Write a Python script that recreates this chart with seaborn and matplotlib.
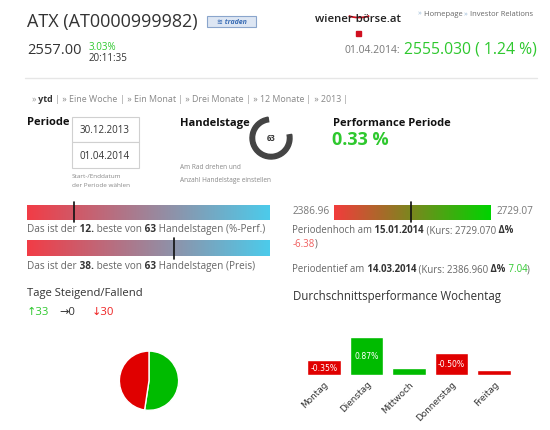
import numpy as np
import matplotlib
matplotlib.use("Agg")
import matplotlib.pyplot as plt
from matplotlib.colors import LinearSegmentedColormap
from matplotlib.patches import Rectangle, Wedge, Arc
import seaborn as sns

# header values
INDEX_NAME = "ATX (AT0000999982)"
LAST_PRICE = "2557.00"
LAST_CHANGE = "3.03%"
LAST_TIME = "20:11:35"
CLOSE_DATE = "01.04.2014:"
CLOSE_VALUE = "2555.030 ( 1.24 %)"
NAV_LINKS = ["Eine Woche", "Ein Monat", "Drei Monate", "12 Monate", "2013"]

# period values
PERIOD_START = "30.12.2013"
PERIOD_END = "01.04.2014"
TRADING_DAYS = 63
PERF_PERIOD = "0.33 %"
RANK_PERF = 12
RANK_PRICE = 38
PERIOD_LOW = 2386.96
PERIOD_HIGH = 2729.07
PRICE_NOW = 2555.03
HIGH_DATE = "15.01.2014"
HIGH_DELTA = "-6.38"
LOW_DATE = "14.03.2014"
LOW_DELTA = "7.04"

# up / flat / down days
DAYS_UP = 33
DAYS_FLAT = 0
DAYS_DOWN = 30

# average performance per weekday (%)
WEEKDAYS = ["Montag", "Dienstag", "Mittwoch", "Donnerstag", "Freitag"]
WEEKDAY_PERF = [-0.35, 0.87, 0.16, -0.50, -0.12]

GREEN_TXT = "#2ec82e"
GREEN = "#00bb00"
RED = "#e00000"
GRAY = "#666666"
DARK = "#333333"

W, H = 550, 431

sns.set_theme(style="white")
plt.rcParams["font.family"] = ["Open Sans", "DejaVu Sans"]

fig = plt.figure(figsize=(W / 100, H / 100), dpi=100)
page = fig.add_axes([0, 0, 1, 1])
page.set_axis_off()


def px_axes(x0, y0, x1, y1):
    return fig.add_axes([x0 / W, 1 - y1 / H, (x1 - x0) / W, (y1 - y0) / H])


def run(x, y, parts, size):
    # parts: (text, color, weight); pieces are glued one after another,
    # spaces go at the start of a piece
    t = None
    for s, c, w in parts:
        if t is None:
            t = page.text(x, y, s, color=c, fontweight=w, fontsize=size, va="center", ha="left")
        else:
            t = page.annotate(s, xy=(1, 0), xycoords=t, va="bottom", ha="left",
                              color=c, fontweight=w, fontsize=size)
    return t


# --- header
page.text(27, 22, INDEX_NAME, fontsize=13, color=DARK, va="center")
page.add_patch(Rectangle((207, 16.5), 49, 11, facecolor="#dde6f3", edgecolor="#8aa5cc", lw=0.8))
page.text(231.5, 22, "≋ traden", fontsize=5, color="#3a6db5", fontweight="bold",
          style="italic", ha="center", va="center")
page.text(27, 51, LAST_PRICE, fontsize=10.5, color=DARK, va="center")
page.text(89, 47, LAST_CHANGE, fontsize=7, color=GREEN_TXT, va="center")
page.text(89, 58.5, LAST_TIME, fontsize=7, color=DARK, va="center")

page.text(315, 20, "wiener börse.at", fontsize=8.2, fontweight="semibold", color="#222222", va="center")
page.add_patch(Arc((359, 15), 24, 7, theta1=10, theta2=170, color="#d01020", lw=1.3))
page.add_patch(Rectangle((356, 32), 5, 5, color="#d01020"))
run(418, 14, [("»", "#9bbbd8", "normal"), (" Homepage", GRAY, "normal"),
              (" »", "#9bbbd8", "normal"), (" Investor Relations", GRAY, "normal")], 5.5)

page.text(537, 49.5, CLOSE_VALUE, fontsize=11.3, color=GREEN_TXT, ha="right", va="center")
page.text(400, 50.5, CLOSE_DATE, fontsize=7.5, color="#777777", ha="right", va="center")
page.plot([25, 537], [79, 79], color="#e6e6e6", lw=1)

nav = [("»", "#999999", "normal"), (" ytd", DARK, "bold")]
for name in NAV_LINKS:
    nav += [(" |", "#999999", "normal"), (" » " + name, "#888888", "normal")]
nav += [(" |", "#999999", "normal")]
run(32, 99.5, nav, 6.4)

# --- period block
page.text(27, 122.5, "Periode", fontsize=8, fontweight="bold", color="#111111", va="center")
for y0, label in [(117.5, PERIOD_START), (143.3, PERIOD_END)]:
    page.add_patch(Rectangle((71.5, y0), 67, 25.8, facecolor="white", edgecolor="#d0d0d0", lw=0.8))
    page.text(105, y0 + 12.9, label, fontsize=7, color=DARK, ha="center", va="center")
page.text(72, 176.5, "Start-/Enddatum", fontsize=4.6, color="#888888", va="center")
page.text(72, 185.5, "der Periode wählen", fontsize=4.6, color="#888888", va="center")

page.text(180, 123.5, "Handelstage", fontsize=8, fontweight="bold", color="#111111", va="center")
page.add_patch(Wedge((271, 139), 21, -10, 262, width=4.6, color="#444444"))
page.text(271, 139, str(TRADING_DAYS), fontsize=5.5, fontweight="bold", color=DARK,
          ha="center", va="center")
page.text(180, 168, "Am Rad drehen und", fontsize=4.7, color="#888888", va="center")
page.text(180, 180.5, "Anzahl Handelstage einstellen", fontsize=4.7, color="#888888", va="center")

page.text(333, 123.5, "Performance Periode", fontsize=8, fontweight="bold", color="#111111", va="center")
page.text(332, 140, PERF_PERIOD, fontsize=13, fontweight="bold", color=GREEN_TXT, va="center")

# --- gradient bars
grad = np.linspace(0, 1, 256)[None, :]
blue_cmap = LinearSegmentedColormap.from_list("rank", ["#f23c46", "#4ccbeb"])
green_cmap = LinearSegmentedColormap.from_list("range", ["#f23c3c", "#00d400"])

for (y0, y1), rank in [((205.7, 220.7), RANK_PERF), ((241.7, 257.3), RANK_PRICE)]:
    page.imshow(grad, cmap=blue_cmap, extent=(27.3, 270, y1, y0), aspect="auto")
    xm = 27.3 + (270 - 27.3) * rank / TRADING_DAYS
    page.plot([xm, xm], [y0 - 2.5, y1 + 2.5], color="#111111", lw=1.2)

BODY = 7.2
run(27, 230, [("Das ist der", GRAY, "normal"), (f" {RANK_PERF}.", DARK, "bold"),
              (" beste von", GRAY, "normal"), (f" {TRADING_DAYS}", DARK, "bold"),
              (" Handelstagen (%-Perf.)", GRAY, "normal")], BODY)
run(27, 266.5, [("Das ist der", GRAY, "normal"), (f" {RANK_PRICE}.", DARK, "bold"),
                (" beste von", GRAY, "normal"), (f" {TRADING_DAYS}", DARK, "bold"),
                (" Handelstagen (Preis)", GRAY, "normal")], BODY)

page.imshow(grad, cmap=green_cmap, extent=(334.3, 491, 220.7, 205.7), aspect="auto")
xm = 334.3 + (491 - 334.3) * (PRICE_NOW - PERIOD_LOW) / (PERIOD_HIGH - PERIOD_LOW)
page.plot([xm, xm], [203.2, 223.2], color="#111111", lw=1.2)
page.text(292.5, 212, f"{PERIOD_LOW:.2f}", fontsize=BODY, color="#777777", va="center")
page.text(497, 212, f"{PERIOD_HIGH:.2f}", fontsize=BODY, color="#777777", va="center")

run(292.5, 231, [("Periodenhoch am", GRAY, "normal"), (f" {HIGH_DATE}", DARK, "bold"),
                 (f" (Kurs: {PERIOD_HIGH:.3f}", GRAY, "normal"), (" Δ%", DARK, "bold")], 6.9)
run(292.5, 244.5, [(HIGH_DELTA, "#f06060", "normal"), (")", GRAY, "normal")], 6.9)
run(292.5, 270, [("Periodentief am", GRAY, "normal"), (f" {LOW_DATE}", DARK, "bold"),
                 (f" (Kurs: {PERIOD_LOW:.3f}", GRAY, "normal"), (" Δ%", DARK, "bold"),
                 (" " + LOW_DELTA, GREEN_TXT, "normal"), (")", GRAY, "normal")], 6.9)

# --- up / down days
page.text(27, 294, "Tage Steigend/Fallend", fontsize=8.1, color=DARK, va="center")
page.text(27, 312.5, f"↑{DAYS_UP}", fontsize=8.1, color=GREEN_TXT, va="center")
page.text(59, 312.5, f"→{DAYS_FLAT}", fontsize=8.1, color=DARK, va="center")
page.text(91.5, 312.5, f"↓{DAYS_DOWN}", fontsize=8.1, color="#ee2222", va="center")

page.text(293, 297, "Durchschnittsperformance Wochentag", fontsize=8.3, color=DARK, va="center")

page.set_xlim(0, W)
page.set_ylim(H, 0)

ax_pie = px_axes(112, 344.7, 186, 418.7)
ax_pie.pie([DAYS_UP, DAYS_DOWN], colors=[GREEN, RED], startangle=90, counterclock=False)
ax_pie.set_aspect("equal")

# --- weekday bars (height = size of the move, colour = direction)
ax_b = px_axes(302.5, 332.7, 515.5, 375.7)
bar_colors = [GREEN if v >= 0 else RED for v in WEEKDAY_PERF]
sns.barplot(x=WEEKDAYS, y=np.abs(WEEKDAY_PERF), hue=WEEKDAYS, palette=bar_colors,
            legend=False, width=0.79, saturation=1, ax=ax_b)
for cont, v in zip(ax_b.containers, WEEKDAY_PERF):
    lab = f"{v:.2f}%" if abs(v) > 0.25 else ""
    ax_b.bar_label(cont, labels=[lab], label_type="center", color="white",
                   fontsize=5.6, family="DejaVu Sans")
ax_b.set_xlim(-0.5, 4.5)
ax_b.set_ylim(0, 1)
ax_b.set_yticks([])
ax_b.set_xlabel("")
ax_b.set_ylabel("")
sns.despine(ax=ax_b, left=True, bottom=True)
ax_b.tick_params(axis="x", length=0, pad=3)
plt.setp(ax_b.get_xticklabels(), rotation=45, ha="right", rotation_mode="anchor",
         fontsize=6.4, color=DARK, family="DejaVu Sans")
ax_b.set_facecolor("none")

fig.savefig("out.png", dpi=100)
